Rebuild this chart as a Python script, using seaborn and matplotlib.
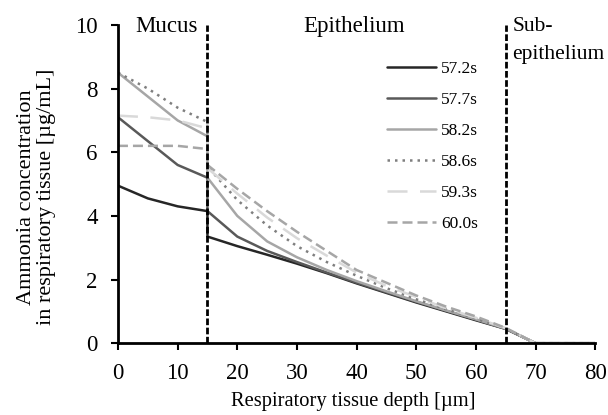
import numpy as np
import pandas as pd
import matplotlib
matplotlib.use("Agg")
import matplotlib.pyplot as plt
import seaborn as sns

# depth grid (µm); 15 appears twice: mucus side then epithelium side
depth = [0, 5, 10, 15, 15, 20, 25, 30, 35, 40, 45, 50, 55, 60, 65, 70, 75, 80]

labels = ["57.2s", "57.7s", "58.2s", "58.6s", "59.3s", "60.0s"]
c572 = [4.95, 4.55, 4.30, 4.15, 3.35, 3.05, 2.78, 2.50, 2.20, 1.88, 1.58, 1.28, 1.00, 0.72, 0.45, 0, 0, 0]
c577 = [7.10, 6.35, 5.60, 5.20, 4.15, 3.35, 2.90, 2.55, 2.22, 1.90, 1.60, 1.30, 1.02, 0.74, 0.45, 0, 0, 0]
c582 = [8.50, 7.75, 7.00, 6.50, 5.20, 4.00, 3.20, 2.70, 2.30, 1.95, 1.63, 1.32, 1.03, 0.75, 0.46, 0, 0, 0]
c586 = [8.50, 8.00, 7.40, 6.95, 5.55, 4.50, 3.70, 3.05, 2.55, 2.12, 1.73, 1.38, 1.07, 0.77, 0.46, 0, 0, 0]
c593 = [7.15, 7.10, 7.00, 6.75, 5.50, 4.70, 3.95, 3.30, 2.75, 2.22, 1.80, 1.45, 1.10, 0.80, 0.47, 0, 0, 0]
c600 = [6.20, 6.20, 6.20, 6.10, 5.60, 4.85, 4.15, 3.50, 2.90, 2.30, 1.90, 1.50, 1.15, 0.84, 0.48, 0, 0, 0]
series = [c572, c577, c582, c586, c593, c600]

xticks = [0, 10, 20, 30, 40, 50, 60, 70, 80]
yticks = [0, 2, 4, 6, 8, 10]
boundaries = [15, 65]

colors = ["#262626", "#595959", "#a6a6a6", "#7f7f7f", "#d9d9d9", "#a6a6a6"]
dashes = [None, None, None, (1, 2.0), (8, 5), (4, 2)]

sns.set_theme(style="white")
plt.rcParams["font.family"] = ["Liberation Serif", "DejaVu Serif"]

fig = plt.figure(figsize=(6.08, 4.15), dpi=100)
ax = fig.add_axes([0.194, 0.173, 0.785, 0.767])

for lab, vals, col, ds in zip(labels, series, colors, dashes):
    df = pd.DataFrame({"depth": depth, "conc": vals})
    sns.lineplot(data=df, x="depth", y="conc", ax=ax, estimator=None, sort=False,
                 color=col, linewidth=1.8, label=lab)
    if ds is not None:
        ax.lines[-1].set_dashes(ds)

for b in boundaries:
    ax.plot([b, b], [0, 10], color="black", linewidth=2, dashes=(2.4, 0.9), zorder=5)

ax.set_xlim(0, 80)
ax.set_ylim(0, 10)
ax.set_xticks(xticks)
ax.set_yticks(yticks)
ax.tick_params(axis="both", which="major", direction="out", length=5, width=1.5,
               labelsize=16.5, color="black", labelcolor="black", bottom=True,
               left=True, pad=9.5)
for s in ["top", "right"]:
    ax.spines[s].set_visible(False)
for s in ["left", "bottom"]:
    ax.spines[s].set_color("black")
    ax.spines[s].set_linewidth(2)
ax.spines["left"].set_zorder(6)
ax.spines["bottom"].set_zorder(6)

ax.set_xlabel("Respiratory tissue depth [µm]", fontsize=14.8, color="black")
ax.xaxis.set_label_coords(0.493, -0.182)
ax.xaxis.label.set_va("center")
ax.set_ylabel("Ammonia concentration\nin respiratory tissue [µg/mL]", fontsize=16,
              color="black", linespacing=1.05)
ax.yaxis.set_label_coords(-0.17, 0.46)
ax.yaxis.label.set_va("center")

ax.text(8.2, 9.95, "Mucus", ha="center", va="center", fontsize=16.5, color="black")
ax.text(39.6, 9.95, "Epithelium", ha="center", va="center", fontsize=16.5, color="black")
ax.text(66.1, 9.95, "Sub-", ha="left", va="center", fontsize=15.5, color="black")
ax.text(66.1, 9.07, "epithelium", ha="left", va="center", fontsize=15.5, color="black")

leg = ax.legend(loc="upper left", bbox_to_anchor=(0.564, 0.888), frameon=False,
                fontsize=12.5, handlelength=2.8, handletextpad=0.3, labelspacing=0.86,
                borderpad=0, borderaxespad=0)
for t in leg.get_texts():
    t.set_color("black")

fig.savefig("out.png", dpi=100)
